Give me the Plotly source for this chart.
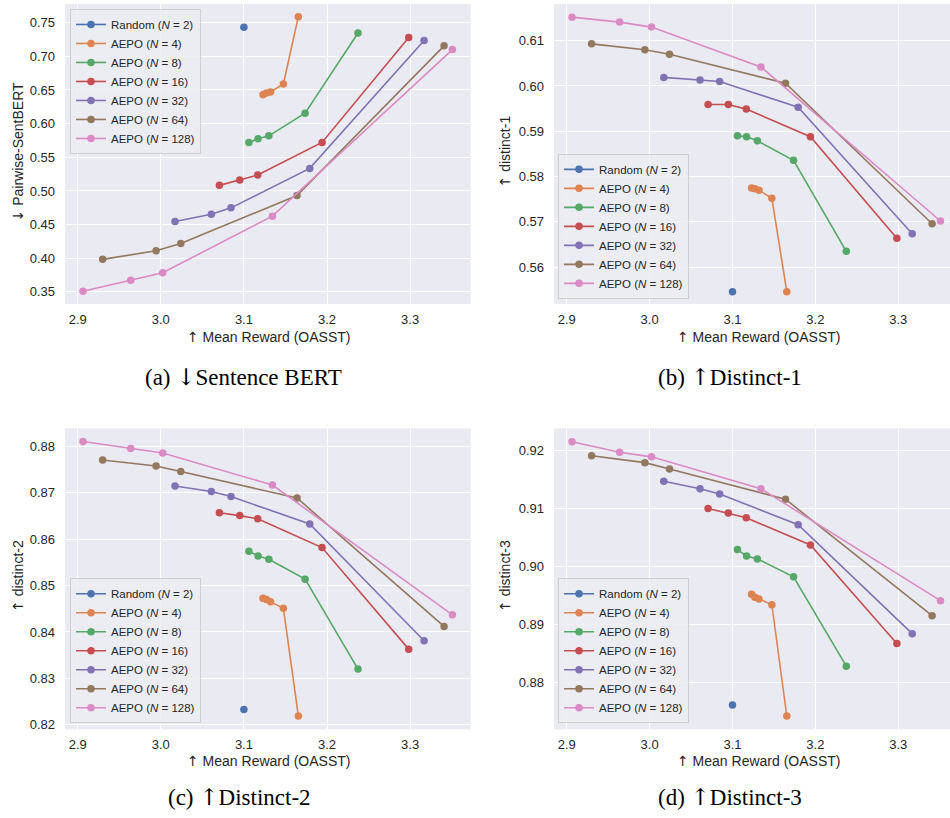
import plotly.graph_objects as go

# ---------------- data ----------------
series_names = ["Random (<i>N</i> = 2)", "AEPO (<i>N</i> = 4)", "AEPO (<i>N</i> = 8)",
                "AEPO (<i>N</i> = 16)", "AEPO (<i>N</i> = 32)", "AEPO (<i>N</i> = 64)",
                "AEPO (<i>N</i> = 128)"]
colors = ["#4C72B0", "#DD8452", "#55A868", "#C44E52", "#8172B3", "#937860", "#DA8BC3"]

reward_rand = [3.100]
reward_n4 = [3.123, 3.127, 3.132, 3.1475, 3.1655]
reward_n8 = [3.106, 3.117, 3.130, 3.1736, 3.2373]
reward_n16 = [3.0705, 3.095, 3.1166, 3.194, 3.2983]
reward_n32 = [3.0171, 3.0608, 3.0845, 3.1792, 3.3168]
reward_n64 = [2.930, 2.9943, 3.024, 3.1639, 3.3408]
reward_n128 = [2.9064, 2.9638, 3.0023, 3.1343, 3.3509]

sbert_rand = [0.743]
sbert_n4 = [0.643, 0.6455, 0.647, 0.6588, 0.7589]
sbert_n8 = [0.572, 0.5774, 0.5818, 0.6154, 0.7347]
sbert_n16 = [0.5083, 0.5162, 0.5236, 0.572, 0.7278]
sbert_n32 = [0.4546, 0.4655, 0.4749, 0.5335, 0.7234]
sbert_n64 = [0.3984, 0.4112, 0.422, 0.4931, 0.7155]
sbert_n128 = [0.351, 0.3673, 0.3786, 0.4625, 0.710]

d1_rand = [0.5546]
d1_n4 = [0.5775, 0.5773, 0.5770, 0.5752, 0.5546]
d1_n8 = [0.5890, 0.5888, 0.5879, 0.5836, 0.5635]
d1_n16 = [0.5959, 0.5959, 0.5949, 0.5888, 0.5664]
d1_n32 = [0.6019, 0.6013, 0.6010, 0.5953, 0.5674]
d1_n64 = [0.6093, 0.6080, 0.6070, 0.6006, 0.5696]
d1_n128 = [0.6152, 0.6141, 0.6130, 0.6042, 0.5702]

d2_rand = [0.8233]
d2_n4 = [0.8473, 0.8470, 0.8465, 0.8451, 0.8219]
d2_n8 = [0.8574, 0.8564, 0.8557, 0.8514, 0.8320]
d2_n16 = [0.8657, 0.8651, 0.8644, 0.8582, 0.8363]
d2_n32 = [0.8715, 0.8703, 0.8692, 0.8633, 0.8381]
d2_n64 = [0.8771, 0.8758, 0.8746, 0.8689, 0.8412]
d2_n128 = [0.8811, 0.8796, 0.8786, 0.8717, 0.8437]

d3_rand = [0.8761]
d3_n4 = [0.8952, 0.8947, 0.8944, 0.8934, 0.8742]
d3_n8 = [0.9029, 0.9018, 0.9013, 0.8982, 0.8828]
d3_n16 = [0.9100, 0.9092, 0.9084, 0.9037, 0.8867]
d3_n32 = [0.9147, 0.9134, 0.9125, 0.9072, 0.8884]
d3_n64 = [0.9191, 0.9179, 0.9168, 0.9116, 0.8915]
d3_n128 = [0.9215, 0.9197, 0.9189, 0.9134, 0.8941]

x_series = [reward_rand, reward_n4, reward_n8, reward_n16, reward_n32, reward_n64, reward_n128]
panels = [
    [sbert_rand, sbert_n4, sbert_n8, sbert_n16, sbert_n32, sbert_n64, sbert_n128],
    [d1_rand, d1_n4, d1_n8, d1_n16, d1_n32, d1_n64, d1_n128],
    [d2_rand, d2_n4, d2_n8, d2_n16, d2_n32, d2_n64, d2_n128],
    [d3_rand, d3_n4, d3_n8, d3_n16, d3_n32, d3_n64, d3_n128],
]
ARROW_SANS = '<span style="font-family:DejaVu Sans">{}</span>'
ARROW_SERIF = '<span style="font-family:DejaVu Serif">{}</span>'
UP, DOWN = "↑", "↓"
y_titles = [ARROW_SANS.format(DOWN) + " Pairwise-SentBERT", ARROW_SANS.format(UP) + " distinct-1",
            ARROW_SANS.format(UP) + " distinct-2", ARROW_SANS.format(UP) + " distinct-3"]
captions = ["(a) " + ARROW_SERIF.format(DOWN) + "Sentence BERT",
            "(b) " + ARROW_SERIF.format(UP) + "Distinct-1",
            "(c) " + ARROW_SERIF.format(UP) + "Distinct-2",
            "(d) " + ARROW_SERIF.format(UP) + "Distinct-3"]
x_title = ARROW_SANS.format(UP) + " Mean Reward (OASST)"
x_ticks = [2.9, 3.0, 3.1, 3.2, 3.3]
y_ticks = [
    [0.35, 0.40, 0.45, 0.50, 0.55, 0.60, 0.65, 0.70, 0.75],
    [0.56, 0.57, 0.58, 0.59, 0.60, 0.61],
    [0.82, 0.83, 0.84, 0.85, 0.86, 0.87, 0.88],
    [0.88, 0.89, 0.90, 0.91, 0.92],
]

# ---------------- layout geometry ----------------
W, H = 950, 818
x_domains = [[0.0684, 0.4955], [0.5832, 1.0], [0.0684, 0.4955], [0.5832, 1.0]]
y_domains = [[0.6271, 0.9951], [0.6271, 0.9951], [0.1051, 0.4743], [0.1051, 0.4743]]
x_ranges = [[2.8847, 3.3729], [2.8847, 3.3624], [2.8847, 3.3729], [2.8847, 3.3624]]
y_ranges = [[0.3322, 0.7777], [0.5519, 0.6181], [0.8190, 0.8839], [0.8719, 0.9238]]
legend_pos = [(0.0737, 0.989, "top"), (0.5874, 0.6333, "bottom"),
              (0.0737, 0.1125, "bottom"), (0.5874, 0.1125, "bottom")]

TXT = "#262626"
BG = "#EAEAF2"
FONT = "Liberation Sans, Arial, sans-serif"

fig = go.Figure()
layout = dict(width=W, height=H, margin=dict(l=0, r=0, t=0, b=0),
              paper_bgcolor="white", plot_bgcolor=BG,
              font=dict(family=FONT, color=TXT, size=13), annotations=[])

for p in range(4):
    sfx = "" if p == 0 else str(p + 1)
    leg = "legend" if p == 0 else "legend" + str(p + 1)
    for s in range(7):
        fig.add_trace(go.Scatter(
            x=x_series[s], y=panels[p][s], name=series_names[s],
            mode="lines+markers",
            line=dict(color=colors[s], width=1.6),
            marker=dict(color=colors[s], size=7.5),
            xaxis="x" + sfx, yaxis="y" + sfx, legend=leg, showlegend=True))
    layout["xaxis" + sfx] = dict(
        domain=x_domains[p], range=x_ranges[p], anchor="y" + sfx,
        tickvals=x_ticks, ticktext=[f"{v:.1f}" for v in x_ticks],
        showgrid=True, gridcolor="white", gridwidth=1.3, zeroline=False,
        showline=False, ticks="", ticklabelstandoff=6,
        tickfont=dict(size=13, color=TXT, family=FONT))
    layout["yaxis" + sfx] = dict(
        domain=y_domains[p], range=y_ranges[p], anchor="x" + sfx,
        tickvals=y_ticks[p], ticktext=[f"{v:.2f}" for v in y_ticks[p]],
        showgrid=True, gridcolor="white", gridwidth=1.3, zeroline=False,
        showline=False, ticks="", ticklabelstandoff=9,
        tickfont=dict(size=13, color=TXT, family=FONT))
    lx, ly, ya = legend_pos[p]
    layout[leg] = dict(x=lx, y=ly, xanchor="left", yanchor=ya,
                       bgcolor="rgba(236,236,243,0.85)",
                       bordercolor="rgba(204,204,204,0.9)", borderwidth=1,
                       font=dict(size=11.5, color=TXT, family=FONT),
                       tracegroupgap=0, itemwidth=30)

# axis titles and captions as annotations
x_title_pos = [(0.283, 0.5868), (0.798, 0.5868), (0.283, 0.066), (0.798, 0.066)]
y_title_pos = [(0.019, 0.8142), (0.5316, 0.8142), (0.019, 0.2934), (0.5316, 0.2934)]
cap_pos = [(0.256, 0.5379), (0.768, 0.5379), (0.2526, 0.022), (0.768, 0.022)]
for p in range(4):
    layout["annotations"].append(dict(
        text=x_title, x=x_title_pos[p][0], y=x_title_pos[p][1], xref="paper", yref="paper",
        showarrow=False, xanchor="center", yanchor="middle",
        font=dict(size=14, color=TXT, family=FONT)))
    layout["annotations"].append(dict(
        text=y_titles[p], x=y_title_pos[p][0], y=y_title_pos[p][1], xref="paper", yref="paper",
        showarrow=False, xanchor="center", yanchor="middle", textangle=-90,
        font=dict(size=14, color=TXT, family=FONT)))
    layout["annotations"].append(dict(
        text=captions[p], x=cap_pos[p][0], y=cap_pos[p][1], xref="paper", yref="paper",
        showarrow=False, xanchor="center", yanchor="middle",
        font=dict(size=23, color="black", family="Liberation Serif, Times New Roman, serif")))

fig.update_layout(**layout)
fig.write_html("out.html", config={"displayModeBar": False},
               post_script="document.body.style.margin='0';document.body.style.overflow='hidden';")
